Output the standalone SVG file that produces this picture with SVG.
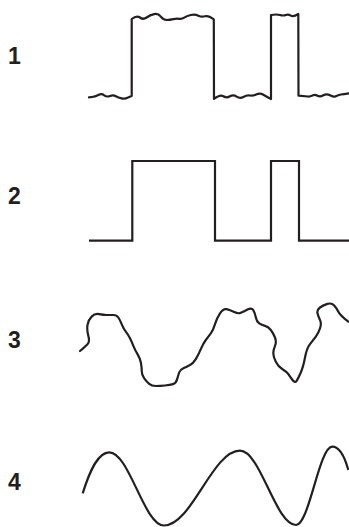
<svg xmlns="http://www.w3.org/2000/svg" width="349" height="527" viewBox="0 0 349 527">
<style>
.lbl{font-family:"Liberation Sans",Arial,sans-serif;font-weight:bold;font-size:23px;fill:#231f20}
.w{fill:none;stroke:#231f20;stroke-width:2.2}
.r{stroke-linejoin:round;stroke-linecap:round}
.m{stroke-linejoin:miter}
</style>
<rect width="349" height="527" fill="#fff"/>
<g id="labels">
<text class="lbl" x="8" y="64">1</text>
<text class="lbl" x="8" y="204">2</text>
<text class="lbl" x="8" y="348">3</text>
<text class="lbl" x="8" y="490">4</text>
</g>
<g id="connectors">
<path id="wave1" class="w r" d="M89,97.3 L92,97 Q95,96.7 98.35,95 Q101.7,93.3 104.2,95.3 Q106.7,97.3 110,96 Q113.3,94.7 115.8,96.2 Q118.3,97.7 121.65,98.35 Q125,99 127.5,97.85 Q130,96.7 131.7,96 L131.7,19 Q136.7,15 140,17.5 Q143.3,20 146.65,17.5 Q150,15 154.15,14.15 Q158.3,13.3 160.8,16.65 Q163.3,20 166.65,20 Q170,20 173.35,19.15 Q176.7,18.3 179.2,18.8 Q181.7,19.3 184.2,17.65 Q186.7,16 190.85,15 Q195,14 198.35,15.65 Q201.7,17.3 205,16.3 Q208.3,15.3 213.8,19.3 L214,99 Q220,94.3 223.35,96.3 Q226.7,98.3 230,96.3 Q233.3,94.3 236.65,96.65 Q240,99 243.35,97 Q246.7,95 250,95.5 Q253.3,96 256.65,94.35 Q260,92.7 263.35,94.7 Q266.7,96.7 271,99 L271,15 Q276.7,14 280,15 Q283.3,16 285.8,15 Q288.3,14 290.8,15.65 Q293.3,17.3 298.3,14 L298.5,95.7 L308,96.5 Q310,96.7 312.5,95.5 Q315,94.3 317.5,95.8 Q320,97.3 323.35,95.3 Q326.7,93.3 330,95.3 Q333.3,97.3 335.8,96.15 Q338.3,95 340.8,94.5 Q343.3,94 349,93.3"/>
<polyline id="wave2" class="w m" points="89,240.7 132.3,240.7 132.3,161 215,161 215,240.7 271,240.7 271,161 299,161 299,240.7 349,240.7"/>
<path id="wave3" class="w r" d="M80,351 L82.5,348.9 Q85,346.7 87.5,344.2 Q90,341.7 88.35,335.85 Q86.7,330 87.5,325 Q88.3,320 91.65,316.65 Q95,313.3 99.15,314.15 Q103.3,315 106.65,315 Q110,315 113.35,315 Q116.7,315 118.35,317.5 Q120,320 121.65,324.15 Q123.3,328.3 125.8,331.65 Q128.3,335 130,338.35 Q131.7,341.7 133.35,345.85 Q135,350 137.5,354.15 Q140,358.3 140.85,362.5 Q141.7,366.7 141.7,370.85 Q141.7,375 144.2,378.35 Q146.7,381.7 149.2,383.85 Q151.7,386 155.85,386 Q160,386 165,385.5 Q170,385 173,384.15 Q176,383.3 177.15,379.15 Q178.3,375 179.15,372.5 Q180,370 183.35,368.35 Q186.7,366.7 190,365 Q193.3,363.3 195.8,359.15 Q198.3,355 200.8,349.15 Q203.3,343.3 205.8,340 Q208.3,336.7 210.8,333.35 Q213.3,330 215,324.15 Q216.7,318.3 220,313.3 Q223.3,308.3 226.65,309.15 Q230,310 234.15,312 Q238.3,314 240.8,312.85 Q243.3,311.7 247.5,309.5 Q251.7,307.3 253.35,310.3 Q255,313.3 255.85,317.5 Q256.7,321.7 259.2,323.35 Q261.7,325 265,325.85 Q268.3,326.7 270.8,330 Q273.3,333.3 275,337.5 Q276.7,341.7 275,345.85 Q273.3,350 273.3,353.35 Q273.3,356.7 275.8,361.7 Q278.3,366.7 282.5,369.2 Q286.7,371.7 288.35,374.2 Q290,376.7 292.5,380 Q295,383.3 296.65,380.8 Q298.3,378.3 300.8,372.5 Q303.3,366.7 305,357.5 Q306.7,348.3 310,344.15 Q313.3,340 315.8,336.65 Q318.3,333.3 320,328.3 Q321.7,323.3 320,320 Q318.3,316.7 317.5,313.35 Q316.7,310 320,307.5 Q323.3,305 327.5,303.85 Q331.7,302.7 334.2,305.5 Q336.7,308.3 338.35,311.65 Q340,315 348.3,321.7"/>
<path id="wave4" class="w" d="M82.7,493.3 C90,470 98,452.3 109.3,452.3 C129.2,452.3 144.1,525.5 164,525.5 C191.7,525.5 212.3,450.7 240,450.7 C260.4,450.7 275.6,525 296,525 C309.2,525 319.1,446.7 332.3,446.7 C340,446.7 345,458 348.3,470"/>
</g>
</svg>
